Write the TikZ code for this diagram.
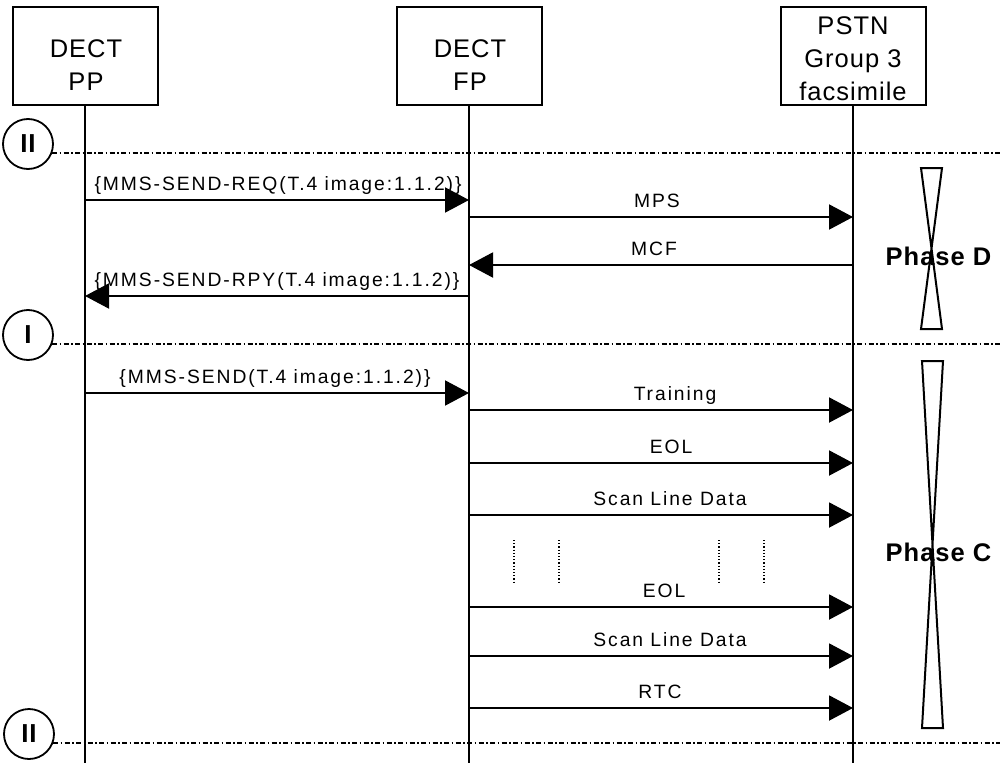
\documentclass[tikz,border=0pt]{standalone}
\usepackage{fontspec}
\setmainfont{Liberation Sans}
\newfontfamily\headfont[LetterSpace=4]{Liberation Sans}
\newfontfamily\msgfam[LetterSpace=10]{Liberation Sans}
\usetikzlibrary{arrows.meta}

\begin{document}
\begin{tikzpicture}[x=1pt,y=-1pt,
  lifebox/.style={draw, line width=2pt, minimum width=145pt, minimum height=98pt, inner sep=0pt},
  headtext/.style={font=\headfont\fontsize{25.5pt}{33pt}\selectfont, align=center, inner sep=0pt, anchor=north},
  life/.style={line width=2pt},
  msg/.style={line width=2pt, -{Triangle[length=24pt,width=25pt]}},
  msglabel/.style={font=\msgfam\fontsize{19.3pt}{22pt}\selectfont, anchor=base, inner sep=0pt},
  phaseline/.style={line width=1.6pt, dash pattern=on 5pt off 2.5pt on 1.5pt off 2.5pt},
  marker/.style={draw, circle, line width=1.8pt, minimum size=50pt, inner sep=0pt,
    font=\headfont\bfseries\fontsize{26pt}{26pt}\selectfont},
  hourglass/.style={line width=2pt},
  phaselabel/.style={font=\headfont\bfseries\fontsize{25.5pt}{26pt}\selectfont, anchor=base, inner sep=0pt},
  gapdots/.style={line width=1.4pt, dash pattern=on 1.2pt off 2pt}
]
\useasboundingbox (0,0) rectangle (1000,765);

% entity boxes and their titles
\node[lifebox] (ppbox) at (85,56) {};
\node[lifebox] (fpbox) at (469,56) {};
\node[lifebox] (pstnbox) at (853,56) {};
\node[headtext] (pptext) at (86,39.5) {DECT\\PP};
\node[headtext] (fptext) at (470,39.5) {DECT\\FP};
\node[headtext] (pstntext) at (853,16.5) {PSTN\\Group 3\\facsimile};

% lifelines
\coordinate (bottom) at (0,763);
\coordinate (right) at (1000,0);
\draw[life] (ppbox.south) -- (ppbox.south |- bottom);
\draw[life] (fpbox.south) -- (fpbox.south |- bottom);
\draw[life] (pstnbox.south) -- (pstnbox.south |- bottom);

% state markers with dash-dotted separators
\node[marker] (m1) at (28,144) {II};
\node[marker] (m2) at (28,335) {I};
\node[marker] (m3) at (29,734) {II};
\draw[phaseline] (m1.-21) -- (m1.-21 -| right);
\draw[phaseline] (m2.-21) -- (m2.-21 -| right);
\draw[phaseline] (m3.-21) -- (m3.-21 -| right);

% message rows
\coordinate (yreq) at (0,200);
\coordinate (ymps) at (0,217);
\coordinate (ymcf) at (0,265);
\coordinate (yrpy) at (0,296);
\coordinate (ysend) at (0,393);
\coordinate (ytrain) at (0,410);
\coordinate (yeola) at (0,463);
\coordinate (yscana) at (0,515);
\coordinate (yeolb) at (0,607);
\coordinate (yscanb) at (0,656);
\coordinate (yrtc) at (0,708);

\draw[msg] (ppbox |- yreq) -- (fpbox |- yreq);
\draw[msg] (fpbox |- ymps) -- (pstnbox |- ymps);
\draw[msg] (pstnbox |- ymcf) -- (fpbox |- ymcf);
\draw[msg] (fpbox |- yrpy) -- (ppbox |- yrpy);
\draw[msg] (ppbox |- ysend) -- (fpbox |- ysend);
\draw[msg] (fpbox |- ytrain) -- (pstnbox |- ytrain);
\draw[msg] (fpbox |- yeola) -- (pstnbox |- yeola);
\draw[msg] (fpbox |- yscana) -- (pstnbox |- yscana);
\draw[msg] (fpbox |- yeolb) -- (pstnbox |- yeolb);
\draw[msg] (fpbox |- yscanb) -- (pstnbox |- yscanb);
\draw[msg] (fpbox |- yrtc) -- (pstnbox |- yrtc);

\node[msglabel] (lreq) at (278,190) {\{MMS-SEND-REQ(T.4 image:1.1.2)\}};
\node[msglabel] (lmps) at (657,207) {MPS};
\node[msglabel] (lmcf) at (654,255) {MCF};
\node[msglabel] (lrpy) at (277,286) {\{MMS-SEND-RPY(T.4 image:1.1.2)\}};
\node[msglabel] (lsend) at (275,383) {\{MMS-SEND(T.4 image:1.1.2)\}};
\node[msglabel] (ltrain) at (675,400) {Training};
\node[msglabel] (leola) at (671,453) {EOL};
\node[msglabel] (lscana) at (670,505) {Scan Line Data};
\node[msglabel] (leolb) at (664,597) {EOL};
\node[msglabel] (lscanb) at (670,646) {Scan Line Data};
\node[msglabel] (lrtc) at (660,698) {RTC};

% omitted repetitions
\draw[gapdots] (514,540) -- (514,583);
\draw[gapdots] (559,540) -- (559,583);
\draw[gapdots] (719,540) -- (719,583);
\draw[gapdots] (764,540) -- (764,583);

% phase brackets
\draw[hourglass] (921,168) -- (942,168) -- (921,329) -- (942,329) -- cycle;
\draw[hourglass] (922,361) -- (943,361) -- (922,728) -- (943,728) -- cycle;
\node[phaselabel] (phd) at (938.5,265) {Phase D};
\node[phaselabel] (phc) at (938.5,561.5) {Phase C};
\end{tikzpicture}
\end{document}
